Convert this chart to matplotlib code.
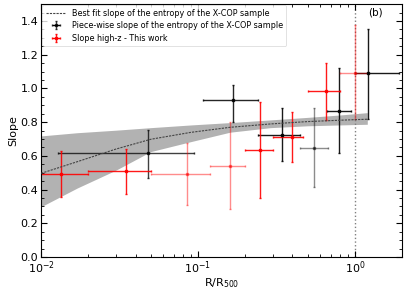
import numpy as np
import matplotlib
matplotlib.use("Agg")
import matplotlib.pyplot as plt
from matplotlib.ticker import MultipleLocator

# Best-fit curve (X-COP)
fit_r = [0.01, 0.017, 0.03, 0.05, 0.09, 0.16, 0.29, 0.5, 0.8, 1.2]
fit_mid = [0.496, 0.565, 0.640, 0.698, 0.739, 0.769, 0.789, 0.803, 0.811, 0.817]
fit_hi = [0.718, 0.737, 0.752, 0.767, 0.783, 0.797, 0.813, 0.828, 0.842, 0.856]
fit_lo = [0.298, 0.409, 0.515, 0.625, 0.684, 0.740, 0.767, 0.778, 0.783, 0.787]

# Piece-wise slope of X-COP (black)
xcop_r = [0.048, 0.168, 0.343, 0.548, 0.795, 1.216]
xcop_rlo = [0.0129, 0.108, 0.241, 0.45, 0.66, 1.0]
xcop_rhi = [0.0946, 0.240, 0.45, 0.67, 0.95, 1.91]
xcop_s = [0.615, 0.931, 0.724, 0.647, 0.864, 1.093]
xcop_slo = [0.467, 0.800, 0.569, 0.417, 0.615, 0.820]
xcop_shi = [0.753, 1.020, 0.882, 0.882, 1.123, 1.350]
xcop_alpha = [0.75, 0.85, 0.9, 0.45, 0.9, 0.9]

# Slope high-z, this work (red)
hz_r = [0.0134, 0.0349, 0.0848, 0.160, 0.249, 0.399, 0.650, 1.0]
hz_rlo = [0.0095, 0.020, 0.050, 0.120, 0.200, 0.300, 0.500, 0.80]
hz_rhi = [0.020, 0.050, 0.120, 0.200, 0.300, 0.470, 0.800, 1.20]
hz_s = [0.492, 0.508, 0.492, 0.540, 0.635, 0.710, 0.985, 1.093]
hz_slo = [0.354, 0.374, 0.308, 0.285, 0.348, 0.562, 0.813, 0.820]
hz_shi = [0.629, 0.640, 0.674, 0.799, 0.917, 0.858, 1.152, 1.376]
hz_alpha = [0.9, 0.9, 0.45, 0.45, 0.9, 0.9, 0.9, 0.45]

fig = plt.figure(figsize=(4.07, 2.91), dpi=100)
ax = fig.add_axes([0.101, 0.117, 0.887, 0.869])

ax.fill_between(fit_r, fit_lo, fit_hi, color="gray", alpha=0.6, lw=0, zorder=1)
ax.plot(fit_r, fit_mid, color="#444444", ls=(0, (2, 1)), lw=0.8, zorder=3,
        label="Best fit slope of the entropy of the X-COP sample")

for i in range(len(xcop_r)):
    ax.errorbar([xcop_r[i]], [xcop_s[i]],
                xerr=[[xcop_r[i] - xcop_rlo[i]], [xcop_rhi[i] - xcop_r[i]]],
                yerr=[[xcop_s[i] - xcop_slo[i]], [xcop_shi[i] - xcop_s[i]]],
                fmt="s", color="black", ms=2, lw=1, capsize=0.8,
                alpha=xcop_alpha[i], zorder=2,
                label="Piece-wise slope of the entropy of the X-COP sample" if i == 0 else None)

for i in range(len(hz_r)):
    ax.errorbar([hz_r[i]], [hz_s[i]],
                xerr=[[hz_r[i] - hz_rlo[i]], [hz_rhi[i] - hz_r[i]]],
                yerr=[[hz_s[i] - hz_slo[i]], [hz_shi[i] - hz_s[i]]],
                fmt="s", color="red", ms=2, lw=1, capsize=0.8,
                alpha=hz_alpha[i], zorder=2,
                label="Slope high-z - This work" if i == 0 else None)

ax.axvline(1.0, color="gray", ls=":", lw=1, zorder=1)

ax.set_xscale("log")
ax.set_xlim(0.01, 2.0)
ax.set_ylim(0, 1.5)
ax.yaxis.set_major_locator(MultipleLocator(0.2))
ax.yaxis.set_minor_locator(MultipleLocator(0.05))
ax.tick_params(which="both", direction="in", top=True, right=True, labelsize=8)
ax.tick_params(which="major", length=4, pad=2)
ax.tick_params(which="minor", length=2)
ax.set_xlabel(r"R/R$_{500}$", fontsize=8, labelpad=0)
ax.set_ylabel("Slope", fontsize=8, labelpad=2)
ax.text(0.945, 0.985, "(b)", transform=ax.transAxes, ha="right", va="top", fontsize=7.5)

handles, labels = ax.get_legend_handles_labels()
leg = ax.legend(handles, labels, loc="upper left", fontsize=5.8, frameon=True,
                borderpad=0.4, labelspacing=0.45, handlelength=2.5,
                borderaxespad=0.15)
for lh in leg.legend_handles:
    try:
        lh.set_alpha(1)
    except Exception:
        pass
leg.get_frame().set_linewidth(0.5)

fig.savefig("out.png", dpi=100)
